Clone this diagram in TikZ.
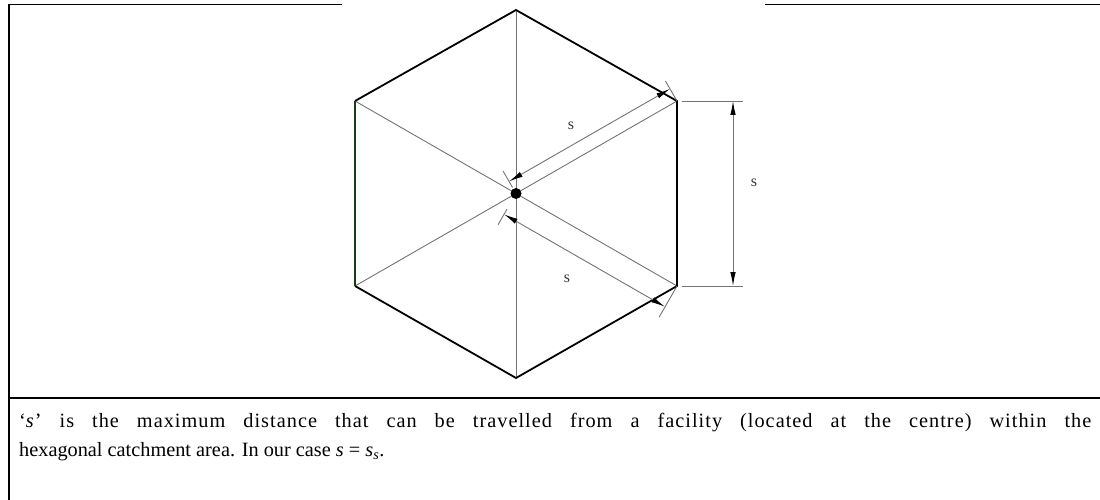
\documentclass[tikz,border=0pt]{standalone}
\usepackage{fontspec}
\setmainfont{Liberation Serif}
\newfontfamily\spacedfont[LetterSpace=5]{Liberation Serif}
\usetikzlibrary{arrows.meta,calc}
\begin{document}
\begin{tikzpicture}[x=1pt,y=-1pt,
  frame/.style={line width=1.8pt, black},
  hexedge/.style={line width=1.8pt, black},
  thinline/.style={line width=0.9pt, black!55},
  dimline/.style={line width=0.9pt, black!55,
    {Latex[length=14pt,width=5.5pt,black]}-{Latex[length=14pt,width=5.5pt,black]}},
  lbl/.style={font=\fontsize{16}{16}\selectfont, text=black!80, inner sep=0pt},
  caption/.style={font=\fontsize{20.3}{29}\selectfont, inner sep=0pt, text width=1072pt, align=justify, anchor=base west}]
\useasboundingbox (0,0) rectangle (1100,500);
% frame
\coordinate (f1) at (9,500);
\coordinate (f2) at (9,4.5);
\coordinate (f3) at (342,4.5);
\coordinate (f4) at (765,4.5);
\coordinate (f5) at (1100,4.5);
\coordinate (f6) at (9,398);
\coordinate (f7) at (1100,398);
\draw[frame] (f1) -- (f2) -- (f3);
\draw[frame] (f4) -- (f5);
\draw[frame] (f6) -- (f7);
% hexagon vertices
\coordinate (T) at (516,10);
\coordinate (UL) at (355,101);
\coordinate (UR) at (677,101);
\coordinate (LL) at (355,286);
\coordinate (LR) at (677,286);
\coordinate (B) at (516,378);
\coordinate (C) at (516,193.5);
% diagonals
\draw[thinline] (T) -- (B);
\draw[thinline] (UL) -- (LR);
\draw[thinline] (LL) -- (UR);
% hexagon
\draw[hexedge, line join=miter] (LL) -- (B) -- (LR) -- (UR) -- (T) -- (UL);
\draw[hexedge, color={rgb,255:red,25;green,60;blue,25}] (UL) -- (LL);
% centre
\fill (C) circle (5.5pt);
% upper dimension
\coordinate (ua) at (509,181.4);
\coordinate (ub) at (670,88.9);
\coordinate (ue) at (665.5,81.1);
\coordinate (ut1) at (512.5,187.4);
\coordinate (ut2) at (503,171);
\draw[thinline] (UR) -- (ue);
\draw[thinline] (ut1) -- (ut2);
\draw[dimline] (ua) -- (ub);
% lower dimension
\coordinate (la) at (504,214.3);
\coordinate (lb) at (665,306.8);
\coordinate (le) at (659.1,317.2);
\coordinate (lt1) at (507,209.1);
\coordinate (lt2) at (498.1,224.7);
\draw[thinline] (LR) -- (le);
\draw[thinline] (lt1) -- (lt2);
\draw[dimline] (la) -- (lb);
% right dimension
\coordinate (r1a) at (682,101);
\coordinate (r1b) at (743,101);
\coordinate (r2a) at (682,286);
\coordinate (r2b) at (743,286);
\coordinate (ra) at (733,101);
\coordinate (rb) at (733,286);
\draw[thinline] (r1a) -- (r1b);
\draw[thinline] (r2a) -- (r2b);
\draw[dimline] (ra) -- (rb);
% labels
\node[lbl] (s1) at (571,126) {s};
\node[lbl] (s2) at (567,279) {s};
\node[lbl] (s3) at (754,183) {s};
% caption
\node[caption] (cap) at (19,427) {{\spacedfont ‘\textit{s}’ is the maximum distance that can be travelled from a facility (located at the centre) within the}\linebreak hexagonal catchment area. In our case \textit{s} = \textit{s}\textsubscript{\textit{s}}.};
\end{tikzpicture}
\end{document}
